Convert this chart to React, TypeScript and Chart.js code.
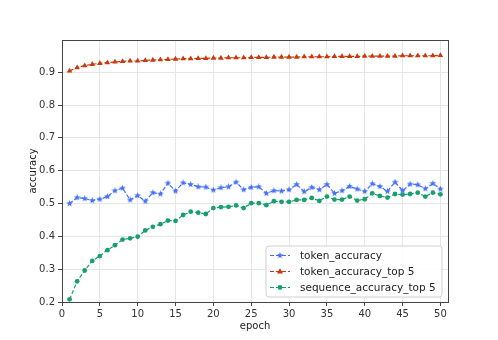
import React, { useEffect, useRef } from "react";
import { Chart, registerables } from "chart.js";

Chart.register(...registerables);

const epochs = Array.from({ length: 50 }, (_, i) => i + 1);

const tokenAccuracy = [
  0.500, 0.518, 0.515, 0.509, 0.513, 0.521, 0.539, 0.547, 0.511, 0.524,
  0.507, 0.533, 0.529, 0.562, 0.538, 0.563, 0.558, 0.551, 0.550, 0.541,
  0.548, 0.551, 0.565, 0.542, 0.549, 0.551, 0.531, 0.539, 0.538, 0.542,
  0.558, 0.536, 0.549, 0.542, 0.558, 0.531, 0.539, 0.552, 0.544, 0.537,
  0.560, 0.552, 0.537, 0.565, 0.539, 0.559, 0.557, 0.545, 0.561, 0.544,
];

const tokenAccuracyTop5 = [
  0.904, 0.914, 0.920, 0.924, 0.927, 0.929, 0.931, 0.933, 0.934, 0.934,
  0.936, 0.937, 0.938, 0.939, 0.940, 0.941, 0.941, 0.942, 0.942, 0.943,
  0.943, 0.944, 0.944, 0.944, 0.945, 0.945, 0.945, 0.946, 0.946, 0.946,
  0.946, 0.947, 0.947, 0.947, 0.947, 0.948, 0.948, 0.948, 0.948, 0.949,
  0.949, 0.949, 0.949, 0.949, 0.950, 0.950, 0.950, 0.950, 0.950, 0.951,
];

const sequenceAccuracyTop5 = [
  0.208, 0.263, 0.296, 0.325, 0.340, 0.358, 0.373, 0.390, 0.394, 0.399,
  0.418, 0.429, 0.437, 0.448, 0.447, 0.465, 0.475, 0.472, 0.468, 0.486,
  0.489, 0.490, 0.494, 0.486, 0.501, 0.501, 0.495, 0.507, 0.505, 0.505,
  0.511, 0.511, 0.517, 0.508, 0.521, 0.512, 0.512, 0.521, 0.509, 0.513,
  0.531, 0.523, 0.518, 0.529, 0.527, 0.529, 0.533, 0.521, 0.533, 0.528,
];

const seriesLabels = ["token_accuracy", "token_accuracy_top 5", "sequence_accuracy_top 5"];
const xTicks = [0, 5, 10, 15, 20, 25, 30, 35, 40, 45, 50];
const yTicks = [0.2, 0.3, 0.4, 0.5, 0.6, 0.7, 0.8, 0.9];

const BLUE = "#4470fa";
const RED = "#c8380c";
const GREEN = "#17a06c";
const FONT = "DejaVu Sans";

function makeStar(color: string, size: number) {
  const c = document.createElement("canvas");
  c.width = size;
  c.height = size;
  const ctx = c.getContext("2d")!;
  const cx = size / 2, cy = size / 2, R = size / 2, r = R * 0.42;
  ctx.beginPath();
  for (let i = 0; i < 10; i++) {
    const rad = i % 2 === 0 ? R : r;
    const a = -Math.PI / 2 + (i * Math.PI) / 5;
    const px = cx + rad * Math.cos(a), py = cy + rad * Math.sin(a);
    if (i === 0) ctx.moveTo(px, py); else ctx.lineTo(px, py);
  }
  ctx.closePath();
  ctx.fillStyle = color;
  ctx.fill();
  return c;
}

function drawMarker(ctx: CanvasRenderingContext2D, ds: any, x: number, y: number) {
  const style = ds.pointStyle;
  if (style instanceof HTMLCanvasElement) {
    ctx.drawImage(style, x - style.width / 2, y - style.height / 2);
    return;
  }
  ctx.fillStyle = ds.pointBackgroundColor;
  ctx.beginPath();
  if (style === "triangle") {
    const r = ds.pointRadius;
    ctx.moveTo(x, y - r);
    ctx.lineTo(x + r * 0.95, y + r * 0.6);
    ctx.lineTo(x - r * 0.95, y + r * 0.6);
    ctx.closePath();
  } else {
    ctx.arc(x, y, ds.pointRadius, 0, Math.PI * 2);
  }
  ctx.fill();
}

const framePlugin = {
  id: "frame",
  afterDatasetsDraw(chart: any) {
    const { ctx, chartArea: a } = chart;
    ctx.save();
    ctx.strokeStyle = "#444";
    ctx.lineWidth = 1;
    ctx.strokeRect(Math.round(a.left) + 0.5, Math.round(a.top) + 0.5, Math.round(a.right - a.left), Math.round(a.bottom - a.top));
    ctx.restore();
  },
};

const legendPlugin = {
  id: "mplLegend",
  afterDraw(chart: any) {
    const { ctx, chartArea: a } = chart;
    const w = 176, h = 51;
    const right = a.right - 6, bottom = a.bottom - 5;
    const left = right - w, top = bottom - h;
    ctx.save();
    ctx.beginPath();
    const r = 3;
    ctx.moveTo(left + r, top);
    ctx.lineTo(right - r, top);
    ctx.quadraticCurveTo(right, top, right, top + r);
    ctx.lineTo(right, bottom - r);
    ctx.quadraticCurveTo(right, bottom, right - r, bottom);
    ctx.lineTo(left + r, bottom);
    ctx.quadraticCurveTo(left, bottom, left, bottom - r);
    ctx.lineTo(left, top + r);
    ctx.quadraticCurveTo(left, top, left + r, top);
    ctx.closePath();
    ctx.fillStyle = "rgba(255,255,255,0.85)";
    ctx.fill();
    ctx.strokeStyle = "#d0d0d0";
    ctx.lineWidth = 1;
    ctx.stroke();
    chart.data.datasets.forEach((ds: any, i: number) => {
      const y = top + 9.5 + i * 16;
      const x0 = left + 4;
      ctx.save();
      ctx.strokeStyle = ds.borderColor;
      ctx.lineWidth = ds.borderWidth;
      ctx.setLineDash(ds.borderDash);
      ctx.beginPath();
      ctx.moveTo(x0, y);
      ctx.lineTo(x0 + 20, y);
      ctx.stroke();
      ctx.restore();
      drawMarker(ctx, ds, x0 + 10, y);
      ctx.fillStyle = "#222";
      ctx.font = `10.5px '${FONT}'`;
      ctx.textBaseline = "middle";
      ctx.textAlign = "left";
      ctx.fillText(ds.label, x0 + 30, y + 0.5);
    });
    ctx.restore();
  },
};

export default function App() {
  const ref = useRef<HTMLCanvasElement>(null);
  useEffect(() => {
    if (!ref.current) return;
    const star = makeStar(BLUE, 7);
    const mk = (label: string, vals: number[], color: string, pointStyle: any, radius: number) => ({
      label,
      data: epochs.map((e, i) => ({ x: e, y: vals[i] })),
      borderColor: color,
      backgroundColor: color,
      pointBackgroundColor: color,
      pointBorderColor: color,
      pointBorderWidth: 0,
      pointStyle,
      pointRadius: radius,
      borderWidth: 1.2,
      borderDash: [4, 2],
      tension: 0,
    });
    const chart = new Chart(ref.current, {
      type: "line",
      data: {
        datasets: [
          mk(seriesLabels[0], tokenAccuracy, BLUE, star, 3.5),
          mk(seriesLabels[1], tokenAccuracyTop5, RED, "triangle", 3.2),
          mk(seriesLabels[2], sequenceAccuracyTop5, GREEN, "circle", 2.4),
        ],
      },
      options: {
        animation: false,
        responsive: true,
        maintainAspectRatio: false,
        devicePixelRatio: 1,
        layout: { padding: { left: 0, top: 40, right: 50, bottom: 0 } },
        plugins: { legend: { display: false }, tooltip: { enabled: false } },
        scales: {
          x: {
            type: "linear",
            min: 0,
            max: 51,
            afterBuildTicks: (s: any) => { s.ticks = xTicks.map((v) => ({ value: v })); },
            afterFit: (s: any) => { s.height = 38; },
            grid: { color: "#e6e6e6", tickColor: "#444", tickLength: 4, lineWidth: 1 },
            border: { display: true, color: "#444" },
            ticks: { color: "#333", font: { family: FONT, size: 10 }, padding: 2, maxRotation: 0, autoSkip: false },
            title: { display: true, text: "epoch", color: "#222", font: { family: FONT, size: 10 }, padding: { top: 0, bottom: 8 } },
          },
          y: {
            type: "linear",
            min: 0.2,
            max: 0.998,
            afterBuildTicks: (s: any) => { s.ticks = yTicks.map((v) => ({ value: v })); },
            afterFit: (s: any) => { s.width = 62; },
            grid: { color: "#e6e6e6", tickColor: "#444", tickLength: 4, lineWidth: 1 },
            border: { display: true, color: "#444" },
            ticks: { color: "#333", font: { family: FONT, size: 10 }, padding: 3, callback: (v: any) => Number(v).toFixed(1) },
            title: { display: true, text: "accuracy", color: "#222", font: { family: FONT, size: 10 }, padding: { top: 27, bottom: 0 } },
          },
        },
      },
      plugins: [framePlugin, legendPlugin],
    } as any);
    return () => chart.destroy();
  }, []);
  return (
    <div style={{ position: "absolute", left: 0, top: 0, width: 498, height: 340, background: "#fff" }}>
      <canvas ref={ref} style={{ width: 498, height: 340 }} />
    </div>
  );
}
